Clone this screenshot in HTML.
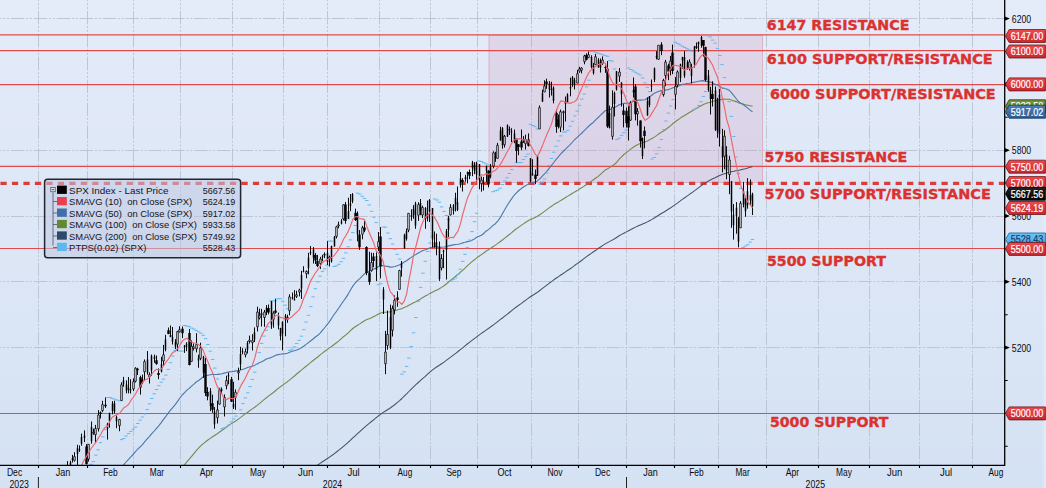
<!DOCTYPE html><html><head><meta charset="utf-8"><title>SPX Index</title><style>html,body{margin:0;padding:0;background:#dde7f6;overflow:hidden}svg{display:block}</style></head><body><svg width="1046" height="488" viewBox="0 0 1046 488" style="display:block">
<defs>
<linearGradient id="bg" x1="0" y1="0" x2="0" y2="1"><stop offset="0" stop-color="#e4ebf9"/><stop offset="1" stop-color="#d5e2f3"/></linearGradient>
<linearGradient id="rl" x1="0" y1="0" x2="0" y2="1"><stop offset="0" stop-color="#ee4a4e"/><stop offset="1" stop-color="#c9272f"/></linearGradient>
<linearGradient id="bl" x1="0" y1="0" x2="0" y2="1"><stop offset="0" stop-color="#4a7fb8"/><stop offset="1" stop-color="#2f5f96"/></linearGradient>
<linearGradient id="gl" x1="0" y1="0" x2="0" y2="1"><stop offset="0" stop-color="#6f9a3c"/><stop offset="1" stop-color="#4f7a24"/></linearGradient>
<linearGradient id="dl" x1="0" y1="0" x2="0" y2="1"><stop offset="0" stop-color="#35587c"/><stop offset="1" stop-color="#22405f"/></linearGradient>
<linearGradient id="cl" x1="0" y1="0" x2="0" y2="1"><stop offset="0" stop-color="#6cc4f6"/><stop offset="1" stop-color="#48a8e6"/></linearGradient>
<linearGradient id="kl" x1="0" y1="0" x2="0" y2="1"><stop offset="0" stop-color="#222"/><stop offset="1" stop-color="#000"/></linearGradient>
<clipPath id="plot"><rect x="0" y="0" width="1004.7" height="465.3"/></clipPath>
</defs>
<rect width="1046" height="488" fill="url(#bg)"/>
<rect x="1043.2" y="0" width="2.8" height="488" fill="#e3ecf9" fill-opacity="0.7"/>
<path d="M38.5 0V465.3M87.5 0V465.3M133.5 0V465.3M180.5 0V465.3M232.5 0V465.3M283.5 0V465.3M327.5 0V465.3M379.5 0V465.3M430.5 0V465.3M477.5 0V465.3M531.5 0V465.3M578.5 0V465.3M626.5 0V465.3M674.5 0V465.3M718.5 0V465.3M766.5 0V465.3M818.5 0V465.3M869.5 0V465.3M919.5 0V465.3M972.5 0V465.3M0 413.5H1004.7M0 347.5H1004.7M0 281.5H1004.7M0 216.5H1004.7M0 150.5H1004.7M0 84.5H1004.7M0 18.5H1004.7" stroke="#b9c2d3" stroke-width="0.9" stroke-dasharray="13.5 1.8 2 1.8 2 1.8" stroke-dashoffset="12" fill="none"/>
<rect x="489.0" y="35.4" width="273.5" height="147.0" fill="#d198b8" fill-opacity="0.24" stroke="#dc9fb0" stroke-width="0.7"/>
<path d="M0 34.9H1004.7" stroke="#e04c4c" stroke-width="1.15"/>
<path d="M0 50.6H1004.7" stroke="#e04c4c" stroke-width="1.15"/>
<path d="M0 84.6H1004.7" stroke="#e04c4c" stroke-width="1.15"/>
<path d="M0 166.4H1004.7" stroke="#e04c4c" stroke-width="1.15"/>
<path d="M0 248.5H1004.7" stroke="#e04c4c" stroke-width="1.15"/>
<path d="M0 413.5H1004.7" stroke="#e04c4c" stroke-width="1.15"/>
<path d="M0 183.4H1004.7" stroke="#dc3c3c" stroke-width="3.2" stroke-dasharray="6.25 5.226" stroke-dashoffset="11.03"/>
<g clip-path="url(#plot)">
<polyline points="39.7,625.3 42.0,624.0 44.3,622.7 46.7,621.5 49.0,620.1 51.4,618.8 53.7,617.5 56.0,616.3 58.4,615.0 60.7,613.9 63.0,612.8 65.4,611.6 67.7,610.4 70.0,609.2 72.4,608.0 74.7,606.7 77.1,605.5 79.4,604.2 81.7,602.9 84.1,601.6 86.4,600.5 88.7,599.2 91.1,597.9 93.4,596.6 95.8,595.3 98.1,593.8 100.4,592.4 102.8,590.8 105.1,589.2 107.4,587.8 109.8,586.3 112.1,584.8 114.5,583.4 116.8,582.0 119.1,580.6 121.5,578.9 123.8,577.2 126.1,575.6 128.5,574.0 130.8,572.4 133.1,570.8 135.5,569.1 137.8,567.5 140.2,566.0 142.5,564.5 144.8,562.9 147.2,561.3 149.5,559.8 151.8,558.1 154.2,556.3 156.5,554.7 158.9,553.1 161.2,551.5 163.5,549.9 165.9,548.2 168.2,546.6 170.5,545.0 172.9,543.4 175.2,541.9 177.6,540.4 179.9,538.9 182.2,537.5 184.6,536.1 186.9,534.8 189.2,533.6 191.6,532.3 193.9,531.0 196.2,529.6 198.6,528.3 200.9,526.9 203.3,525.7 205.6,524.4 207.9,523.3 210.3,522.3 212.6,521.3 214.9,520.4 217.3,519.5 219.6,518.5 222.0,517.6 224.3,516.7 226.6,515.7 229.0,514.7 231.3,513.8 233.6,513.0 236.0,512.1 238.3,511.2 240.7,510.2 243.0,509.1 245.3,508.1 247.7,507.1 250.0,506.0 252.3,504.9 254.7,503.8 257.0,502.6 259.3,501.5 261.7,500.3 264.0,499.1 266.4,497.8 268.7,496.6 271.0,495.4 273.4,494.0 275.7,492.7 278.0,491.4 280.4,490.1 282.7,488.8 285.1,487.4 287.4,485.9 289.7,484.4 292.1,482.8 294.4,481.2 296.7,479.6 299.1,478.0 301.4,476.3 303.7,474.7 306.1,473.0 308.4,471.4 310.8,469.7 313.1,468.1 315.4,466.5 317.8,465.0 320.1,463.4 322.4,461.8 324.8,460.3 327.1,458.7 329.5,457.1 331.8,455.5 334.1,453.8 336.5,452.0 338.8,450.2 341.1,448.3 343.5,446.3 345.8,444.4 348.2,442.3 350.5,440.2 352.8,437.9 355.2,435.8 357.5,433.7 359.8,431.6 362.2,429.4 364.5,427.3 366.8,425.3 369.2,423.4 371.5,421.5 373.9,419.6 376.2,417.7 378.5,415.8 380.9,414.1 383.2,412.4 385.5,411.0 387.9,409.5 390.2,408.0 392.6,406.3 394.9,404.5 397.2,402.6 399.6,400.6 401.9,398.5 404.2,396.2 406.6,393.9 408.9,391.5 411.3,389.1 413.6,386.8 415.9,384.6 418.3,382.5 420.6,380.4 422.9,378.3 425.3,376.3 427.6,374.2 429.9,372.1 432.3,370.2 434.6,368.4 437.0,366.8 439.3,365.3 441.6,363.7 444.0,362.1 446.3,360.4 448.6,358.6 451.0,356.9 453.3,355.1 455.7,353.3 458.0,351.5 460.3,349.6 462.7,347.8 465.0,345.9 467.3,344.0 469.7,342.2 472.0,340.4 474.4,338.6 476.7,336.8 479.0,335.1 481.4,333.4 483.7,331.8 486.0,330.1 488.4,328.5 490.7,326.8 493.0,325.2 495.4,323.4 497.7,321.6 500.1,319.7 502.4,318.0 504.7,316.2 507.1,314.4 509.4,312.5 511.7,310.6 514.1,308.7 516.4,307.0 518.8,305.2 521.1,303.6 523.4,301.8 525.8,300.1 528.1,298.4 530.4,296.8 532.8,295.2 535.1,293.8 537.4,292.3 539.8,290.5 542.1,288.7 544.5,286.9 546.8,285.1 549.1,283.3 551.5,281.6 553.8,279.8 556.1,278.2 558.5,276.6 560.8,275.0 563.2,273.5 565.5,271.9 567.8,270.3 570.2,268.7 572.5,267.1 574.8,265.3 577.2,263.6 579.5,262.0 581.9,260.3 584.2,258.4 586.5,256.6 588.9,255.0 591.2,253.4 593.5,251.8 595.9,250.2 598.2,248.5 600.5,247.0 602.9,245.4 605.2,243.9 607.6,242.6 609.9,241.4 612.2,240.1 614.6,238.7 616.9,237.2 619.2,235.7 621.6,234.4 623.9,233.2 626.3,231.9 628.6,230.7 630.9,229.5 633.3,228.2 635.6,227.1 637.9,226.0 640.3,225.0 642.6,224.0 645.0,223.0 647.3,221.9 649.6,220.7 652.0,219.4 654.3,218.0 656.6,216.5 659.0,215.0 661.3,213.5 663.6,212.2 666.0,210.7 668.3,209.3 670.7,207.8 673.0,206.1 675.3,204.6 677.7,202.9 680.0,201.2 682.3,199.4 684.7,197.7 687.0,196.1 689.4,194.4 691.7,192.8 694.0,191.1 696.4,189.4 698.7,187.6 701.0,185.8 703.4,184.1 705.7,182.6 708.1,181.3 710.4,180.0 712.7,178.8 715.1,177.7 717.4,176.5 719.7,175.5 722.1,174.6 724.4,173.7 726.7,173.0 729.1,172.2 731.4,171.7 733.8,171.3 736.1,170.8 738.4,170.4 740.8,169.8 743.1,169.2 745.4,168.7 747.8,167.9 750.1,167.3 752.5,166.7" fill="none" stroke="#42536a" stroke-width="1.05" stroke-linejoin="round"/>
<polyline points="39.7,595.6 42.0,594.9 44.3,594.3 46.7,593.5 49.0,592.5 51.4,591.4 53.7,590.2 56.0,588.9 58.4,587.6 60.7,586.3 63.0,585.2 65.4,583.9 67.7,582.5 70.0,581.1 72.4,579.8 74.7,578.4 77.1,577.0 79.4,575.7 81.7,574.4 84.1,573.0 86.4,571.9 88.7,570.6 91.1,569.2 93.4,567.7 95.8,566.3 98.1,564.7 100.4,563.1 102.8,561.3 105.1,559.5 107.4,557.9 109.8,556.0 112.1,553.9 114.5,551.7 116.8,549.6 119.1,547.4 121.5,544.7 123.8,542.0 126.1,539.3 128.5,536.6 130.8,533.8 133.1,531.0 135.5,528.1 137.8,525.3 140.2,522.7 142.5,520.2 144.8,517.5 147.2,515.1 149.5,512.6 151.8,509.8 154.2,507.0 156.5,504.2 158.9,501.4 161.2,498.4 163.5,495.3 165.9,491.9 168.2,488.4 170.5,484.9 172.9,481.3 175.2,477.8 177.6,474.2 179.9,470.8 182.2,467.5 184.6,464.6 186.9,461.8 189.2,459.2 191.6,456.4 193.9,453.6 196.2,450.7 198.6,448.2 200.9,445.7 203.3,443.7 205.6,441.8 207.9,440.0 210.3,438.4 212.6,436.8 214.9,435.3 217.3,433.8 219.6,432.0 222.0,430.3 224.3,428.7 226.6,426.9 229.0,425.1 231.3,423.6 233.6,422.2 236.0,420.8 238.3,419.1 240.7,417.4 243.0,415.6 245.3,413.9 247.7,412.2 250.0,410.5 252.3,408.9 254.7,407.2 257.0,405.4 259.3,403.6 261.7,401.6 264.0,399.7 266.4,397.8 268.7,395.9 271.0,394.3 273.4,392.5 275.7,390.5 278.0,388.6 280.4,386.8 282.7,385.1 285.1,383.4 287.4,381.7 289.7,379.8 292.1,377.9 294.4,376.0 296.7,374.0 299.1,372.0 301.4,370.1 303.7,368.2 306.1,366.3 308.4,364.4 310.8,362.4 313.1,360.5 315.4,358.7 317.8,357.0 320.1,354.9 322.4,353.1 324.8,351.3 327.1,349.6 329.5,347.9 331.8,346.2 334.1,344.5 336.5,342.7 338.8,340.9 341.1,338.8 343.5,336.7 345.8,334.9 348.2,332.9 350.5,330.7 352.8,328.5 355.2,326.8 357.5,325.3 359.8,323.9 362.2,322.3 364.5,320.7 366.8,319.6 369.2,318.8 371.5,317.7 373.9,316.4 376.2,315.3 378.5,314.1 380.9,313.1 383.2,312.3 385.5,312.3 387.9,312.0 390.2,311.9 392.6,311.2 394.9,310.6 397.2,310.0 399.6,309.3 401.9,308.6 404.2,307.6 406.6,306.5 408.9,305.2 411.3,304.0 413.6,302.8 415.9,301.7 418.3,300.3 420.6,299.0 422.9,297.4 425.3,296.1 427.6,294.9 429.9,293.4 432.3,292.2 434.6,291.1 437.0,289.9 439.3,288.8 441.6,287.4 444.0,285.8 446.3,284.0 448.6,282.0 451.0,279.9 453.3,278.1 455.7,276.2 458.0,274.4 460.3,272.3 462.7,270.4 465.0,268.2 467.3,265.8 469.7,263.7 472.0,261.6 474.4,259.8 476.7,257.9 479.0,256.2 481.4,254.6 483.7,253.0 486.0,251.2 488.4,249.8 490.7,248.3 493.0,246.7 495.4,245.1 497.7,243.4 500.1,241.7 502.4,240.0 504.7,238.1 507.1,236.3 509.4,234.5 511.7,232.6 514.1,230.5 516.4,228.8 518.8,227.1 521.1,225.4 523.4,223.9 525.8,222.3 528.1,220.7 530.4,219.6 532.8,218.4 535.1,217.5 537.4,216.3 539.8,214.7 542.1,213.1 544.5,211.4 546.8,209.6 549.1,207.9 551.5,206.2 553.8,204.6 556.1,203.3 558.5,201.9 560.8,200.4 563.2,199.0 565.5,197.5 567.8,196.1 570.2,194.7 572.5,193.3 574.8,191.9 577.2,190.6 579.5,189.0 581.9,187.6 584.2,186.1 586.5,184.8 588.9,183.1 591.2,181.4 593.5,179.7 595.9,178.0 598.2,176.4 600.5,174.3 602.9,172.1 605.2,170.1 607.6,168.8 609.9,167.4 612.2,166.0 614.6,164.3 616.9,162.0 619.2,159.2 621.6,156.8 623.9,154.5 626.3,152.6 628.6,150.9 630.9,148.9 633.3,147.2 635.6,145.7 637.9,144.4 640.3,143.5 642.6,142.8 645.0,142.0 647.3,140.9 649.6,139.7 652.0,138.5 654.3,137.1 656.6,135.6 659.0,133.8 661.3,132.2 663.6,131.0 666.0,129.2 668.3,127.5 670.7,125.6 673.0,123.5 675.3,121.8 677.7,120.0 680.0,118.4 682.3,116.8 684.7,115.4 687.0,114.0 689.4,112.6 691.7,111.2 694.0,109.8 696.4,108.5 698.7,107.1 701.0,105.8 703.4,104.5 705.7,103.6 708.1,102.8 710.4,102.2 712.7,101.3 715.1,100.8 717.4,100.0 719.7,99.7 722.1,99.4 724.4,99.1 726.7,99.3 729.1,99.3 731.4,100.0 733.8,100.9 736.1,101.6 738.4,102.7 740.8,103.4 743.1,104.0 745.4,104.8 747.8,105.3 750.1,105.8 752.5,106.3" fill="none" stroke="#748a4c" stroke-width="1.1" stroke-linejoin="round"/>
<polyline points="39.7,580.0 42.0,577.1 44.3,574.2 46.7,571.1 49.0,567.4 51.4,563.6 53.7,559.5 56.0,555.3 58.4,550.9 60.7,547.0 63.0,543.5 65.4,540.1 67.7,536.6 70.0,533.4 72.4,530.0 74.7,526.6 77.1,523.0 79.4,519.5 81.7,516.0 84.1,512.8 86.4,510.5 88.7,507.9 91.1,504.9 93.4,502.1 95.8,499.3 98.1,496.2 100.4,493.1 102.8,490.0 105.1,486.8 107.4,484.2 109.8,481.3 112.1,478.3 114.5,475.5 116.8,473.0 119.1,470.6 121.5,467.6 123.8,464.7 126.1,462.0 128.5,459.4 130.8,456.9 133.1,454.3 135.5,451.6 137.8,449.0 140.2,446.8 142.5,444.6 144.8,441.6 147.2,438.9 149.5,436.4 151.8,433.6 154.2,431.0 156.5,428.3 158.9,425.6 161.2,422.6 163.5,419.4 165.9,416.4 168.2,413.2 170.5,410.2 172.9,407.3 175.2,404.6 177.6,401.4 179.9,398.0 182.2,395.0 184.6,392.6 186.9,390.2 189.2,388.3 191.6,386.1 193.9,384.1 196.2,382.0 198.6,380.5 200.9,378.7 203.3,376.8 205.6,375.8 207.9,375.2 210.3,374.7 212.6,374.3 214.9,374.5 217.3,374.4 219.6,374.1 222.0,373.8 224.3,373.1 226.6,372.5 229.0,371.9 231.3,371.7 233.6,371.4 236.0,370.9 238.3,370.6 240.7,370.0 243.0,369.3 245.3,368.5 247.7,367.6 250.0,366.8 252.3,366.2 254.7,365.4 257.0,363.9 259.3,362.7 261.7,361.7 264.0,360.5 266.4,359.1 268.7,358.3 271.0,357.6 273.4,356.6 275.7,355.3 278.0,354.6 280.4,354.2 282.7,353.9 285.1,353.6 287.4,353.2 289.7,352.3 292.1,351.3 294.4,350.7 296.7,350.0 299.1,349.1 301.4,347.7 303.7,346.2 306.1,344.4 308.4,342.6 310.8,340.7 313.1,339.0 315.4,337.0 317.8,335.3 320.1,333.1 322.4,330.3 324.8,327.5 327.1,324.6 329.5,321.6 331.8,318.0 334.1,314.5 336.5,311.3 338.8,308.0 341.1,304.5 343.5,301.0 345.8,297.9 348.2,294.1 350.5,290.0 352.8,286.1 355.2,283.0 357.5,280.7 359.8,278.6 362.2,276.1 364.5,273.8 366.8,272.5 369.2,271.3 371.5,269.9 373.9,268.9 376.2,268.0 378.5,266.5 380.9,265.6 383.2,265.5 385.5,266.3 387.9,266.4 390.2,267.1 392.6,267.0 394.9,266.5 397.2,265.8 399.6,264.8 401.9,263.7 404.2,262.0 406.6,260.7 408.9,259.0 411.3,257.4 413.6,255.6 415.9,254.4 418.3,253.0 420.6,251.8 422.9,250.5 425.3,249.7 427.6,249.0 429.9,247.8 432.3,247.4 434.6,246.9 437.0,246.7 439.3,247.2 441.6,247.3 444.0,247.0 446.3,246.5 448.6,245.9 451.0,245.4 453.3,244.9 455.7,244.5 458.0,244.2 460.3,243.7 462.7,242.9 465.0,242.3 467.3,241.6 469.7,241.2 472.0,240.2 474.4,238.9 476.7,237.2 479.0,236.3 481.4,235.3 483.7,233.5 486.0,231.2 488.4,229.6 490.7,227.7 493.0,225.4 495.4,223.7 497.7,221.2 500.1,217.9 502.4,213.7 504.7,209.8 507.1,205.5 509.4,202.0 511.7,198.6 514.1,195.3 516.4,192.9 518.8,190.5 521.1,188.8 523.4,187.0 525.8,185.5 528.1,184.1 530.4,183.6 532.8,182.5 535.1,182.0 537.4,180.9 539.8,178.9 542.1,176.4 544.5,173.8 546.8,171.4 549.1,168.4 551.5,165.4 553.8,162.5 556.1,159.4 558.5,156.6 560.8,153.9 563.2,151.5 565.5,149.1 567.8,146.9 570.2,144.6 572.5,142.0 574.8,139.5 577.2,137.4 579.5,135.1 581.9,133.0 584.2,130.6 586.5,128.3 588.9,126.0 591.2,124.0 593.5,122.2 595.9,119.7 598.2,117.5 600.5,115.2 602.9,113.0 605.2,110.7 607.6,109.9 609.9,109.4 612.2,108.4 614.6,107.4 616.9,106.2 619.2,104.7 621.6,103.9 623.9,103.4 626.3,103.3 628.6,103.2 630.9,102.6 633.3,101.5 635.6,100.8 637.9,100.1 640.3,100.1 642.6,100.0 645.0,99.8 647.3,98.2 649.6,96.9 652.0,95.0 654.3,93.2 656.6,92.2 659.0,91.2 661.3,90.6 663.6,90.5 666.0,89.9 668.3,89.6 670.7,88.8 673.0,87.7 675.3,87.0 677.7,86.2 680.0,85.2 682.3,84.4 684.7,84.0 687.0,83.5 689.4,83.2 691.7,82.8 694.0,82.3 696.4,81.8 698.7,81.3 701.0,80.9 703.4,80.6 705.7,81.1 708.1,81.6 710.4,82.1 712.7,83.0 715.1,84.2 717.4,84.9 719.7,86.3 722.1,88.1 724.4,88.3 726.7,89.2 729.1,90.2 731.4,92.6 733.8,95.7 736.1,98.5 738.4,101.5 740.8,103.3 743.1,104.6 745.4,106.3 747.8,108.1 750.1,110.1 752.5,111.7" fill="none" stroke="#4a78a8" stroke-width="1.1" stroke-linejoin="round"/>
<path d="M38.0 512.7h3.4M40.3 491.5h3.4M42.6 491.5h3.4M45.0 492.6h3.4M47.3 518.9h3.4M49.7 518.5h3.4M52.0 517.1h3.4M54.3 515.1h3.4M56.7 514.0h3.4M59.0 510.6h3.4M61.3 480.4h3.4M63.7 481.0h3.4M66.0 507.2h3.4M68.3 506.3h3.4M70.7 504.5h3.4M73.0 501.5h3.4M75.4 497.6h3.4M77.7 492.3h3.4M80.0 487.5h3.4M82.4 481.1h3.4M84.7 474.0h3.4M87.0 467.9h3.4M89.4 464.3h3.4M91.7 461.6h3.4M94.1 455.2h3.4M96.4 449.8h3.4M98.7 442.7h3.4M101.1 436.8h3.4M103.4 429.6h3.4M105.7 397.5h3.4M108.1 397.5h3.4M110.4 398.3h3.4M112.8 399.1h3.4M115.1 400.0h3.4M117.4 400.7h3.4M119.8 439.6h3.4M122.1 438.5h3.4M124.4 436.0h3.4M126.8 433.6h3.4M129.1 431.4h3.4M131.4 429.2h3.4M133.8 427.1h3.4M136.1 423.5h3.4M138.5 420.1h3.4M140.8 417.0h3.4M143.1 414.0h3.4M145.5 409.6h3.4M147.8 403.8h3.4M150.1 398.5h3.4M152.5 393.8h3.4M154.8 389.5h3.4M157.2 385.7h3.4M159.5 382.2h3.4M161.8 379.2h3.4M164.2 375.1h3.4M166.5 369.4h3.4M168.8 362.7h3.4M171.2 356.0h3.4M173.5 350.5h3.4M175.9 349.1h3.4M178.2 351.1h3.4M180.5 351.1h3.4M182.9 325.5h3.4M185.2 326.0h3.4M187.5 326.6h3.4M189.9 328.1h3.4M192.2 329.0h3.4M194.5 330.4h3.4M196.9 331.8h3.4M199.2 333.2h3.4M201.6 335.3h3.4M203.9 338.7h3.4M206.2 344.5h3.4M208.6 351.2h3.4M210.9 359.5h3.4M213.2 368.1h3.4M215.6 379.0h3.4M217.9 387.9h3.4M220.3 428.7h3.4M222.6 427.8h3.4M224.9 427.0h3.4M227.3 425.0h3.4M229.6 421.9h3.4M231.9 418.9h3.4M234.3 416.1h3.4M236.6 413.5h3.4M239.0 409.9h3.4M241.3 403.6h3.4M243.6 397.9h3.4M246.0 392.8h3.4M248.3 386.6h3.4M250.6 379.4h3.4M253.0 372.2h3.4M255.3 364.1h3.4M257.6 352.6h3.4M260.0 343.4h3.4M262.3 336.1h3.4M264.7 330.2h3.4M267.0 326.8h3.4M269.3 300.9h3.4M271.7 300.9h3.4M274.0 300.9h3.4M276.3 298.7h3.4M278.7 298.7h3.4M281.0 301.2h3.4M283.4 305.1h3.4M285.7 308.8h3.4M288.0 350.3h3.4M290.4 349.2h3.4M292.7 346.9h3.4M295.0 343.5h3.4M297.4 340.3h3.4M299.7 336.2h3.4M302.0 329.7h3.4M304.4 322.0h3.4M306.7 315.3h3.4M309.1 306.6h3.4M311.4 296.9h3.4M313.7 288.7h3.4M316.1 281.9h3.4M318.4 276.2h3.4M320.7 271.3h3.4M323.1 268.9h3.4M325.4 265.2h3.4M327.8 241.1h3.4M330.1 241.1h3.4M332.4 266.5h3.4M334.8 265.9h3.4M337.1 264.3h3.4M339.4 261.7h3.4M341.8 258.3h3.4M344.1 252.9h3.4M346.5 246.8h3.4M348.8 239.9h3.4M351.1 232.6h3.4M353.5 225.5h3.4M355.8 193.1h3.4M358.1 194.0h3.4M360.5 196.3h3.4M362.8 198.4h3.4M365.1 200.5h3.4M367.5 205.0h3.4M369.8 211.3h3.4M372.2 217.2h3.4M374.5 222.6h3.4M376.8 284.8h3.4M379.2 283.7h3.4M381.5 227.1h3.4M383.8 227.1h3.4M386.2 233.0h3.4M388.5 238.7h3.4M390.9 244.1h3.4M393.2 249.3h3.4M395.5 254.3h3.4M397.9 259.1h3.4M400.2 374.2h3.4M402.5 371.9h3.4M404.9 366.4h3.4M407.2 358.1h3.4M409.6 346.5h3.4M411.9 332.8h3.4M414.2 317.5h3.4M416.6 301.3h3.4M418.9 287.4h3.4M421.2 273.2h3.4M423.6 261.3h3.4M425.9 251.4h3.4M428.2 243.0h3.4M430.6 236.0h3.4M432.9 199.0h3.4M435.3 200.0h3.4M437.6 202.2h3.4M439.9 206.9h3.4M442.3 211.4h3.4M444.6 215.5h3.4M446.9 219.5h3.4M449.3 280.9h3.4M451.6 279.4h3.4M454.0 277.9h3.4M456.3 274.5h3.4M458.6 269.2h3.4M461.0 261.4h3.4M463.3 254.3h3.4M465.6 247.7h3.4M468.0 240.1h3.4M470.3 231.6h3.4M472.7 221.7h3.4M475.0 213.2h3.4M477.3 160.9h3.4M479.7 161.5h3.4M482.0 162.7h3.4M484.3 163.9h3.4M486.7 165.0h3.4M489.0 165.6h3.4M491.3 191.7h3.4M493.7 190.8h3.4M496.0 190.1h3.4M498.4 188.2h3.4M500.7 184.5h3.4M503.0 181.0h3.4M505.4 177.8h3.4M507.7 173.5h3.4M510.0 169.6h3.4M512.4 165.9h3.4M514.7 162.6h3.4M517.1 162.6h3.4M519.4 162.6h3.4M521.7 159.5h3.4M524.1 156.7h3.4M526.4 154.1h3.4M528.7 124.4h3.4M531.1 125.5h3.4M533.4 126.7h3.4M535.7 129.0h3.4M538.1 184.2h3.4M540.4 182.7h3.4M542.8 179.0h3.4M545.1 173.0h3.4M547.4 165.5h3.4M549.8 158.5h3.4M552.1 152.2h3.4M554.4 146.3h3.4M556.8 140.9h3.4M559.1 135.9h3.4M561.5 132.0h3.4M563.8 132.0h3.4M566.1 130.3h3.4M568.5 126.2h3.4M570.8 121.3h3.4M573.1 115.9h3.4M575.5 111.1h3.4M577.8 105.3h3.4M580.2 99.1h3.4M582.5 94.0h3.4M584.8 86.9h3.4M587.2 80.2h3.4M589.5 51.5h3.4M591.8 51.5h3.4M594.2 52.4h3.4M596.5 53.3h3.4M598.8 53.9h3.4M601.2 54.8h3.4M603.5 55.6h3.4M605.9 56.3h3.4M608.2 60.6h3.4M610.5 61.1h3.4M612.9 69.0h3.4M615.2 139.6h3.4M617.5 138.2h3.4M619.9 135.4h3.4M622.2 132.7h3.4M624.6 130.1h3.4M626.9 68.0h3.4M629.2 69.5h3.4M631.6 70.9h3.4M633.9 72.3h3.4M636.2 73.7h3.4M638.6 75.0h3.4M640.9 77.9h3.4M643.3 82.8h3.4M645.6 87.3h3.4M647.9 91.6h3.4M650.3 159.0h3.4M652.6 157.4h3.4M654.9 153.8h3.4M657.3 147.6h3.4M659.6 139.5h3.4M661.9 129.7h3.4M664.3 121.0h3.4M666.6 113.1h3.4M669.0 106.0h3.4M671.3 99.6h3.4M673.6 42.2h3.4M676.0 43.6h3.4M678.3 44.9h3.4M680.6 46.2h3.4M683.0 47.4h3.4M685.3 48.7h3.4M687.7 49.9h3.4M690.0 51.1h3.4M692.3 109.4h3.4M694.7 108.2h3.4M697.0 105.5h3.4M699.3 101.7h3.4M701.7 96.4h3.4M704.0 91.6h3.4M706.4 35.9h3.4M708.7 37.0h3.4M711.0 40.1h3.4M713.4 43.1h3.4M715.7 48.4h3.4M718.0 55.5h3.4M720.4 64.6h3.4M722.7 77.6h3.4M725.0 88.9h3.4M727.4 101.6h3.4M729.7 116.4h3.4M732.1 136.5h3.4M734.4 157.1h3.4M736.7 173.6h3.4M739.1 188.3h3.4M741.4 247.4h3.4M743.7 246.0h3.4M746.1 244.8h3.4M748.4 242.1h3.4M750.8 239.5h3.4" stroke="#62b8f0" stroke-width="1" fill="none"/>
<path d="M39.5 491.5V506.1M42.5 498.0V516.0M44.5 507.7V518.9M46.5 512.0V518.5M49.5 489.0V514.6M51.5 484.1V494.5M53.5 483.0V514.0M56.5 482.0V494.1M58.5 480.4V486.1M60.5 482.7V492.8M63.5 494.7V507.2M65.5 483.9V499.9M67.5 461.1V483.3M70.5 460.7V470.4M72.5 454.9V462.6M74.5 452.2V461.6M77.5 444.8V474.8M79.5 445.4V451.9M81.5 433.6V445.7M84.5 430.4V442.1M86.5 444.1V464.3M88.5 444.0V461.6M91.5 421.5V443.7M93.5 428.6V434.8M95.5 424.9V442.6M98.5 410.1V431.5M100.5 411.4V418.5M102.5 400.8V412.1M105.5 397.5V407.9M107.5 422.8V439.6M109.5 412.6V427.7M112.5 401.1V414.3M114.5 400.7V413.6M116.5 415.5V428.2M119.5 418.9V431.2M121.5 382.3V400.6M123.5 376.9V386.8M126.5 380.4V393.3M128.5 377.0V393.3M130.5 379.2V393.5M133.5 378.4V391.1M135.5 367.2V382.5M137.5 367.8V375.0M140.5 375.7V394.6M142.5 374.6V384.2M144.5 359.5V380.8M147.5 351.1V374.7M149.5 372.4V383.5M151.5 354.5V376.0M154.5 354.6V362.8M156.5 355.5V364.8M158.5 368.4V379.2M161.5 356.8V372.4M163.5 344.9V365.7M165.5 334.8V351.3M168.5 327.5V334.2M170.5 325.5V337.2M172.5 327.0V344.5M175.5 339.1V349.1M177.5 330.8V351.1M179.5 326.2V332.5M182.5 326.5V338.1M184.5 345.0V352.9M186.5 342.2V351.2M189.5 329.0V365.4M191.5 340.4V361.7M193.5 343.4V350.5M196.5 333.2V352.4M198.5 354.7V367.8M200.5 342.7V360.2M203.5 355.8V377.9M205.5 358.0V396.1M207.5 387.1V400.3M210.5 388.1V411.1M212.5 394.7V412.8M214.5 407.1V428.7M217.5 400.6V423.5M219.5 388.4V404.5M221.5 387.5V393.5M224.5 394.4V416.5M226.5 375.7V389.4M228.5 372.8V384.3M231.5 376.9V401.8M233.5 381.8V409.0M235.5 389.4V409.8M238.5 367.6V380.1M240.5 346.8V370.0M242.5 348.3V354.3M245.5 348.6V357.4M247.5 341.1V353.5M249.5 335.6V343.5M252.5 334.2V350.5M254.5 327.4V342.0M257.5 306.7V331.5M259.5 308.6V319.5M261.5 308.9V326.5M264.5 310.0V326.8M266.5 305.1V315.2M268.5 304.5V314.4M271.5 300.9V328.9M273.5 311.2V327.7M275.5 298.7V313.7M278.5 312.6V329.4M280.5 327.8V340.4M282.5 321.2V350.3M285.5 314.0V336.3M287.5 314.7V322.8M289.5 294.3V315.3M292.5 292.5V299.5M294.5 290.1V300.5M296.5 290.8V298.0M299.5 288.7V296.4M301.5 270.8V298.9M303.5 266.2V272.4M306.5 270.5V278.3M308.5 252.8V274.3M310.5 246.0V255.1M313.5 247.1V263.5M315.5 253.0V264.0M317.5 254.9V267.1M320.5 256.9V268.9M322.5 254.8V261.2M324.5 252.4V258.1M327.5 241.1V265.0M329.5 255.6V266.5M331.5 245.7V262.6M334.5 236.0V246.5M336.5 225.8V238.5M338.5 221.6V228.3M341.5 219.0V224.4M343.5 204.4V220.5M345.5 202.0V223.7M348.5 197.7V219.1M350.5 194.0V211.1M352.5 193.1V203.2M355.5 208.6V221.0M357.5 211.4V241.4M359.5 230.0V249.9M362.5 225.8V239.3M364.5 220.8V232.2M366.5 246.3V275.2M369.5 251.7V284.8M371.5 252.7V271.7M373.5 252.9V267.2M376.5 252.4V281.2M378.5 232.0V251.0M380.5 227.1V278.4M383.5 287.1V314.0M385.5 330.9V374.2M387.5 310.6V349.7M390.5 304.6V349.1M392.5 305.5V336.5M394.5 295.4V314.4M397.5 291.3V306.7M399.5 269.8V289.4M401.5 261.0V276.6M404.5 233.7V248.5M406.5 228.5V240.6M408.5 213.3V232.2M411.5 209.3V220.8M413.5 205.2V218.8M415.5 201.8V228.8M418.5 202.2V220.9M420.5 199.0V215.2M422.5 205.7V218.1M425.5 207.1V228.8M427.5 200.6V221.4M429.5 199.1V222.0M432.5 208.1V247.5M434.5 231.5V247.7M436.5 233.7V255.3M439.5 241.5V280.9M441.5 254.1V270.5M443.5 249.6V268.1M446.5 229.0V279.5M448.5 215.8V237.2M450.5 204.1V215.5M453.5 204.1V214.5M455.5 192.7V211.4M457.5 186.5V211.0M460.5 172.1V187.6M462.5 178.1V191.5M465.5 174.8V181.7M467.5 171.5V183.4M469.5 169.6V179.1M472.5 160.9V176.2M474.5 162.1V174.1M476.5 161.7V181.9M479.5 164.1V189.3M481.5 176.6V191.7M483.5 176.9V190.5M486.5 165.6V182.2M488.5 170.2V187.4M490.5 164.1V178.3M493.5 151.3V168.3M495.5 151.8V161.8M497.5 142.9V158.4M500.5 126.7V140.5M502.5 127.1V148.7M504.5 134.9V147.5M507.5 124.4V137.0M509.5 126.5V135.0M511.5 128.2V142.0M514.5 129.5V143.2M516.5 138.7V162.6M518.5 144.3V155.2M521.5 129.5V150.2M523.5 136.1V142.6M525.5 134.7V149.5M528.5 133.4V146.5M530.5 158.3V182.2M532.5 159.2V175.5M535.5 169.5V184.2M537.5 155.6V175.8M539.5 105.4V128.9M542.5 89.7V101.8M544.5 80.3V92.0M546.5 78.7V88.8M549.5 81.1V97.5M551.5 81.7V95.6M553.5 86.4V103.4M556.5 109.1V132.8M558.5 114.6V128.5M560.5 109.6V132.0M563.5 110.5V130.3M565.5 96.5V121.5M567.5 93.3V102.7M570.5 77.6V96.3M572.5 76.0V86.9M574.5 77.8V89.4M577.5 69.9V83.1M579.5 66.8V72.8M581.5 67.3V73.4M584.5 54.8V64.3M586.5 53.3V60.4M588.5 51.5V58.1M591.5 55.3V68.4M593.5 62.9V74.6M595.5 53.9V64.6M598.5 58.2V67.5M600.5 58.5V72.6M602.5 56.4V64.9M605.5 65.4V72.8M607.5 61.1V127.9M609.5 105.6V128.5M612.5 90.3V139.6M614.5 91.6V116.5M616.5 71.2V90.5M619.5 68.0V82.0M621.5 82.4V106.5M623.5 103.9V127.4M626.5 107.5V127.5M628.5 105.8V140.5M630.5 101.1V121.0M633.5 77.5V97.6M635.5 84.2V120.4M637.5 108.1V125.6M640.5 120.5V147.6M642.5 137.5V159.0M644.5 126.5V148.4M647.5 97.4V115.6M649.5 96.0V107.2M651.5 79.5V91.5M654.5 67.5V82.1M656.5 51.2V59.4M658.5 45.3V59.8M661.5 42.2V55.2M663.5 78.8V96.6M665.5 59.9V86.2M668.5 63.7V80.1M670.5 55.9V75.4M672.5 44.6V74.2M675.5 77.1V109.4M677.5 70.4V87.4M680.5 63.7V82.1M682.5 56.8V69.0M684.5 51.1V77.8M687.5 60.3V69.6M689.5 59.3V70.5M691.5 63.7V83.4M694.5 45.9V67.6M696.5 42.5V49.0M698.5 41.8V51.7M701.5 35.9V47.8M703.5 40.1V56.6M705.5 46.6V81.6M708.5 70.0V91.7M710.5 86.8V114.5M712.5 81.2V106.5M715.5 86.5V130.9M717.5 97.8V137.8M719.5 89.0V146.6M722.5 128.8V172.4M724.5 130.3V169.2M726.5 146.2V179.3M729.5 155.8V194.2M731.5 181.3V227.8M733.5 204.1V239.6M736.5 202.1V233.7M738.5 216.7V247.4M740.5 201.1V227.9M743.5 181.9V207.4M745.5 198.1V216.7M747.5 178.1V208.7M750.5 179.4V205.4M752.5 192.7V215.0" stroke="#000" stroke-width="0.95" fill="none"/>
<path d="M45.7 513.0h1.6V514.0h-1.6ZM52.7 484.6h1.6V492.2h-1.6ZM64.7 485.5h1.6V495.9h-1.6ZM66.7 466.1h1.6V479.6h-1.6ZM73.7 456.6h1.6V460.4h-1.6ZM87.7 444.3h1.6V459.1h-1.6ZM92.7 432.2h1.6V433.2h-1.6ZM94.7 428.5h1.6V434.7h-1.6ZM97.7 415.0h1.6V428.7h-1.6ZM101.7 404.6h1.6V410.5h-1.6ZM118.7 419.4h1.6V425.6h-1.6ZM120.7 384.8h1.6V400.6h-1.6ZM132.7 381.7h1.6V388.9h-1.6ZM134.7 368.3h1.6V381.2h-1.6ZM143.7 361.6h1.6V371.8h-1.6ZM148.7 374.6h1.6V376.9h-1.6ZM162.7 354.7h1.6V361.0h-1.6ZM176.7 331.6h1.6V344.2h-1.6ZM178.7 329.7h1.6V331.8h-1.6ZM190.7 346.2h1.6V361.4h-1.6ZM192.7 346.8h1.6V348.4h-1.6ZM195.7 344.3h1.6V348.8h-1.6ZM199.7 347.9h1.6V358.4h-1.6ZM216.7 409.9h1.6V417.7h-1.6ZM218.7 390.2h1.6V404.2h-1.6ZM223.7 397.5h1.6V406.9h-1.6ZM225.7 380.5h1.6V385.8h-1.6ZM234.7 392.3h1.6V397.3h-1.6ZM237.7 371.4h1.6V373.0h-1.6ZM244.7 351.7h1.6V354.9h-1.6ZM248.7 340.1h1.6V341.6h-1.6ZM251.7 340.6h1.6V342.6h-1.6ZM256.7 312.0h1.6V326.7h-1.6ZM258.7 315.7h1.6V317.9h-1.6ZM260.7 313.6h1.6V314.6h-1.6ZM263.7 312.0h1.6V317.5h-1.6ZM272.7 313.1h1.6V319.3h-1.6ZM286.7 317.5h1.6V319.3h-1.6ZM288.7 296.9h1.6V310.7h-1.6ZM295.7 294.7h1.6V296.4h-1.6ZM298.7 289.9h1.6V292.1h-1.6ZM305.7 271.4h1.6V273.7h-1.6ZM319.7 259.0h1.6V263.7h-1.6ZM328.7 257.1h1.6V258.4h-1.6ZM335.7 226.8h1.6V236.4h-1.6ZM337.7 224.9h1.6V225.9h-1.6ZM342.7 204.8h1.6V218.9h-1.6ZM361.7 227.7h1.6V234.2h-1.6ZM370.7 262.4h1.6V270.7h-1.6ZM377.7 241.6h1.6V247.1h-1.6ZM384.7 352.1h1.6V363.7h-1.6ZM386.7 334.4h1.6V345.5h-1.6ZM391.7 308.3h1.6V330.3h-1.6ZM393.7 300.2h1.6V309.9h-1.6ZM398.7 270.5h1.6V289.4h-1.6ZM407.7 213.3h1.6V230.1h-1.6ZM417.7 204.6h1.6V215.2h-1.6ZM421.7 207.5h1.6V215.0h-1.6ZM440.7 258.4h1.6V268.0h-1.6ZM449.7 207.4h1.6V214.9h-1.6ZM480.7 180.0h1.6V183.7h-1.6ZM492.7 152.8h1.6V166.1h-1.6ZM496.7 145.3h1.6V158.4h-1.6ZM503.7 136.2h1.6V144.7h-1.6ZM524.7 139.4h1.6V143.7h-1.6ZM538.7 107.7h1.6V128.9h-1.6ZM543.7 85.9h1.6V92.0h-1.6ZM559.7 111.7h1.6V127.2h-1.6ZM562.7 111.7h1.6V112.7h-1.6ZM576.7 73.7h1.6V83.1h-1.6ZM578.7 68.9h1.6V71.2h-1.6ZM580.7 68.0h1.6V70.3h-1.6ZM583.7 55.9h1.6V61.6h-1.6ZM587.7 54.7h1.6V57.6h-1.6ZM594.7 56.7h1.6V64.6h-1.6ZM601.7 60.0h1.6V63.4h-1.6ZM611.7 107.2h1.6V136.4h-1.6ZM618.7 72.0h1.6V76.2h-1.6ZM629.7 103.3h1.6V120.2h-1.6ZM636.7 111.3h1.6V113.8h-1.6ZM657.7 45.3h1.6V59.3h-1.6ZM662.7 80.4h1.6V94.6h-1.6ZM664.7 62.1h1.6V75.5h-1.6ZM669.7 61.0h1.6V67.7h-1.6ZM674.7 86.2h1.6V94.4h-1.6ZM676.7 71.9h1.6V85.0h-1.6ZM688.7 61.9h1.6V68.2h-1.6ZM723.7 136.2h1.6V156.3h-1.6ZM728.7 160.0h1.6V174.5h-1.6ZM739.7 203.2h1.6V227.9h-1.6Z" fill="#f4f6fc" stroke="#000" stroke-width="0.8"/>
<path d="M38.3 492.7h2.4V498.0h-2.4ZM41.75 501.4h1.5V510.5h-1.5ZM43.75 510.2h1.5V515.8h-1.5ZM48.75 491.2h1.5V508.7h-1.5ZM50.75 490.3h1.5V493.5h-1.5ZM55.75 485.7h1.5V486.7h-1.5ZM57.75 484.5h1.5V485.5h-1.5ZM59.75 485.8h1.5V490.4h-1.5ZM62.3 494.7h2.4V499.2h-2.4ZM69.75 462.6h1.5V466.8h-1.5ZM71.75 457.9h1.5V460.1h-1.5ZM76.75 448.2h1.5V453.9h-1.5ZM78.75 449.3h1.5V450.3h-1.5ZM80.75 437.1h1.5V443.7h-1.5ZM83.75 435.6h1.5V438.1h-1.5ZM85.3 446.6h2.4V464.2h-2.4ZM90.75 427.0h1.5V441.0h-1.5ZM99.3 412.5h2.4V414.1h-2.4ZM104.3 404.8h2.4V406.2h-2.4ZM106.75 423.9h1.5V428.8h-1.5ZM108.75 413.2h1.5V421.3h-1.5ZM111.75 403.6h1.5V411.1h-1.5ZM113.75 403.2h1.5V411.6h-1.5ZM115.75 417.0h1.5V421.5h-1.5ZM122.75 380.5h1.5V384.2h-1.5ZM125.75 384.5h1.5V390.5h-1.5ZM127.75 387.7h1.5V389.8h-1.5ZM129.75 389.2h1.5V390.4h-1.5ZM136.3 368.7h2.4V370.3h-2.4ZM139.3 377.2h2.4V387.5h-2.4ZM141.75 378.9h1.5V383.0h-1.5ZM146.75 359.4h1.5V372.7h-1.5ZM150.75 355.7h1.5V370.2h-1.5ZM153.75 356.4h1.5V359.0h-1.5ZM155.3 360.2h2.4V363.9h-2.4ZM157.3 372.9h2.4V374.9h-2.4ZM160.75 364.2h1.5V371.6h-1.5ZM164.75 339.5h1.5V349.5h-1.5ZM167.3 330.2h2.4V333.9h-2.4ZM169.3 335.5h2.4V336.5h-2.4ZM171.75 337.0h1.5V341.6h-1.5ZM174.75 341.9h1.5V346.4h-1.5ZM181.3 328.8h2.4V333.2h-2.4ZM183.75 345.7h1.5V346.7h-1.5ZM185.75 343.8h1.5V347.3h-1.5ZM188.3 333.1h2.4V365.0h-2.4ZM197.75 358.2h1.5V360.5h-1.5ZM202.75 357.1h1.5V372.8h-1.5ZM204.3 364.1h2.4V393.1h-2.4ZM206.3 392.1h2.4V396.5h-2.4ZM209.75 391.0h1.5V406.1h-1.5ZM211.3 403.2h2.4V409.7h-2.4ZM213.75 411.6h1.5V424.2h-1.5ZM220.3 389.4h2.4V390.4h-2.4ZM227.75 375.2h1.5V376.2h-1.5ZM230.3 379.2h2.4V401.7h-2.4ZM232.75 403.9h1.5V407.3h-1.5ZM239.75 353.9h1.5V364.2h-1.5ZM241.75 351.2h1.5V352.2h-1.5ZM246.75 343.0h1.5V349.8h-1.5ZM253.75 332.2h1.5V339.4h-1.5ZM265.75 307.7h1.5V312.2h-1.5ZM267.3 308.0h2.4V312.4h-2.4ZM270.75 301.5h1.5V325.3h-1.5ZM274.3 310.4h2.4V312.7h-2.4ZM277.75 316.3h1.5V325.6h-1.5ZM279.75 327.9h1.5V335.9h-1.5ZM281.75 322.1h1.5V333.4h-1.5ZM284.75 315.7h1.5V320.2h-1.5ZM291.75 297.3h1.5V298.7h-1.5ZM293.75 299.2h1.5V300.2h-1.5ZM300.75 274.9h1.5V288.5h-1.5ZM302.75 270.7h1.5V271.7h-1.5ZM307.75 257.7h1.5V267.9h-1.5ZM309.75 251.9h1.5V253.2h-1.5ZM312.75 249.2h1.5V257.7h-1.5ZM314.3 255.1h2.4V260.5h-2.4ZM316.3 260.9h2.4V266.1h-2.4ZM321.75 256.2h1.5V257.2h-1.5ZM323.3 254.3h2.4V255.3h-2.4ZM326.75 252.7h1.5V261.9h-1.5ZM330.75 245.9h1.5V261.5h-1.5ZM333.75 236.7h1.5V246.5h-1.5ZM340.75 221.2h1.5V223.6h-1.5ZM344.3 204.4h2.4V221.1h-2.4ZM347.75 210.9h1.5V219.0h-1.5ZM349.75 203.4h1.5V205.7h-1.5ZM351.75 193.9h1.5V201.5h-1.5ZM354.3 212.7h2.4V219.9h-2.4ZM356.75 213.2h1.5V234.2h-1.5ZM358.3 234.6h2.4V247.3h-2.4ZM363.3 227.4h2.4V230.6h-2.4ZM365.3 247.0h2.4V272.9h-2.4ZM368.3 272.4h2.4V282.1h-2.4ZM372.3 256.6h2.4V260.9h-2.4ZM375.75 255.9h1.5V269.8h-1.5ZM379.3 236.5h2.4V266.4h-2.4ZM382.75 289.5h1.5V299.4h-1.5ZM389.75 317.0h1.5V347.8h-1.5ZM396.3 297.6h2.4V300.1h-2.4ZM400.75 263.6h1.5V267.9h-1.5ZM403.75 234.7h1.5V248.5h-1.5ZM405.75 231.1h1.5V238.9h-1.5ZM410.75 215.1h1.5V216.9h-1.5ZM412.75 209.1h1.5V215.0h-1.5ZM414.75 203.6h1.5V225.7h-1.5ZM419.75 203.0h1.5V210.5h-1.5ZM424.75 207.9h1.5V218.6h-1.5ZM426.75 213.6h1.5V218.6h-1.5ZM428.75 200.1h1.5V211.8h-1.5ZM431.75 208.1h1.5V239.4h-1.5ZM433.75 242.3h1.5V246.7h-1.5ZM435.75 242.3h1.5V247.8h-1.5ZM438.75 246.5h1.5V279.0h-1.5ZM442.75 250.4h1.5V252.0h-1.5ZM445.75 231.1h1.5V250.1h-1.5ZM447.75 217.4h1.5V230.0h-1.5ZM452.75 205.1h1.5V211.0h-1.5ZM454.75 197.7h1.5V204.6h-1.5ZM456.75 202.3h1.5V210.0h-1.5ZM459.75 178.6h1.5V182.2h-1.5ZM461.3 179.9h2.4V182.3h-2.4ZM464.75 177.0h1.5V179.2h-1.5ZM466.75 172.3h1.5V174.0h-1.5ZM468.3 172.0h2.4V175.8h-2.4ZM471.75 162.6h1.5V168.2h-1.5ZM473.75 164.9h1.5V170.5h-1.5ZM475.75 162.5h1.5V174.4h-1.5ZM478.75 164.1h1.5V180.2h-1.5ZM482.75 183.1h1.5V184.1h-1.5ZM485.75 166.3h1.5V170.8h-1.5ZM487.3 170.7h2.4V184.4h-2.4ZM489.75 166.3h1.5V176.8h-1.5ZM494.75 156.8h1.5V157.8h-1.5ZM499.75 130.5h1.5V140.4h-1.5ZM501.75 128.2h1.5V145.2h-1.5ZM506.75 125.3h1.5V136.6h-1.5ZM508.75 128.9h1.5V130.6h-1.5ZM510.75 131.2h1.5V132.4h-1.5ZM513.75 133.4h1.5V139.4h-1.5ZM515.3 138.8h2.4V151.0h-2.4ZM517.3 144.3h2.4V147.0h-2.4ZM520.3 141.4h2.4V147.5h-2.4ZM522.75 139.0h1.5V142.5h-1.5ZM527.3 139.5h2.4V145.7h-2.4ZM529.75 158.3h1.5V181.3h-1.5ZM531.75 173.6h1.5V175.5h-1.5ZM534.3 174.8h2.4V178.9h-2.4ZM536.75 155.9h1.5V175.7h-1.5ZM541.75 93.3h1.5V101.8h-1.5ZM545.3 81.5h2.4V84.0h-2.4ZM548.75 83.2h1.5V89.7h-1.5ZM550.75 89.1h1.5V90.1h-1.5ZM552.75 87.8h1.5V101.1h-1.5ZM555.3 113.1h2.4V127.0h-2.4ZM557.75 119.4h1.5V125.8h-1.5ZM564.75 101.3h1.5V103.9h-1.5ZM566.75 94.5h1.5V102.7h-1.5ZM569.75 86.9h1.5V88.6h-1.5ZM571.75 77.3h1.5V84.4h-1.5ZM573.75 79.8h1.5V84.8h-1.5ZM585.3 55.1h2.4V59.7h-2.4ZM590.75 57.1h1.5V67.0h-1.5ZM592.75 65.5h1.5V72.9h-1.5ZM597.75 60.0h1.5V67.5h-1.5ZM599.75 62.0h1.5V67.6h-1.5ZM604.3 67.1h2.4V68.1h-2.4ZM606.3 68.7h2.4V126.5h-2.4ZM608.75 113.1h1.5V128.1h-1.5ZM613.75 92.9h1.5V104.1h-1.5ZM615.75 71.2h1.5V89.5h-1.5ZM620.75 82.4h1.5V94.0h-1.5ZM622.3 110.5h2.4V115.0h-2.4ZM625.3 110.8h2.4V123.3h-2.4ZM627.3 116.2h2.4V127.6h-2.4ZM632.75 90.1h1.5V92.5h-1.5ZM634.3 86.6h2.4V114.3h-2.4ZM639.3 120.5h2.4V141.3h-2.4ZM641.75 138.3h1.5V156.1h-1.5ZM643.3 130.7h2.4V136.1h-2.4ZM646.75 100.9h1.5V115.6h-1.5ZM648.75 96.4h1.5V105.0h-1.5ZM650.75 85.5h1.5V86.5h-1.5ZM653.75 68.2h1.5V79.8h-1.5ZM655.75 56.0h1.5V57.6h-1.5ZM660.3 44.4h2.4V51.1h-2.4ZM667.3 65.4h2.4V71.5h-2.4ZM671.3 52.6h2.4V71.1h-2.4ZM679.75 64.2h1.5V77.7h-1.5ZM681.75 56.9h1.5V60.6h-1.5ZM683.75 57.1h1.5V75.8h-1.5ZM686.75 62.5h1.5V69.1h-1.5ZM690.75 67.3h1.5V76.1h-1.5ZM693.75 46.5h1.5V64.5h-1.5ZM695.3 46.4h2.4V47.4h-2.4ZM697.75 41.8h1.5V44.4h-1.5ZM700.75 37.0h1.5V45.7h-1.5ZM702.3 40.1h2.4V45.7h-2.4ZM704.3 46.9h2.4V80.1h-2.4ZM707.75 75.6h1.5V89.9h-1.5ZM709.75 90.1h1.5V99.1h-1.5ZM711.3 94.0h2.4V98.9h-2.4ZM714.75 90.4h1.5V129.9h-1.5ZM716.75 99.4h1.5V131.5h-1.5ZM718.75 94.8h1.5V133.8h-1.5ZM721.75 146.3h1.5V157.4h-1.5ZM725.75 154.8h1.5V170.4h-1.5ZM730.75 181.3h1.5V211.2h-1.5ZM732.75 214.8h1.5V225.2h-1.5ZM735.75 207.8h1.5V216.2h-1.5ZM737.75 217.8h1.5V241.8h-1.5ZM742.75 191.3h1.5V204.3h-1.5ZM744.75 198.1h1.5V211.2h-1.5ZM746.75 191.2h1.5V205.3h-1.5ZM749.75 195.3h1.5V200.6h-1.5ZM751.75 193.8h1.5V205.9h-1.5Z" fill="#000"/>
<polyline points="39.7,499.2 42.0,499.7 44.3,501.3 46.7,503.2 49.0,503.3 51.4,501.4 53.7,499.2 56.0,497.6 58.4,496.6 60.7,496.7 63.0,496.9 65.4,494.3 67.7,489.4 70.0,484.3 72.4,481.0 74.7,477.3 77.1,473.7 79.4,470.0 81.7,465.3 84.1,460.1 86.4,456.6 88.7,452.4 91.1,448.5 93.4,445.5 95.8,442.5 98.1,438.4 100.4,435.0 102.8,430.5 105.1,427.4 107.4,426.5 109.8,421.4 112.1,417.3 114.5,415.8 116.8,414.7 119.1,413.8 121.5,410.8 123.8,407.8 126.1,406.4 128.5,404.5 130.8,400.7 133.1,397.5 135.5,394.0 137.8,389.9 140.2,386.5 142.5,382.4 144.8,380.1 147.2,379.0 149.5,377.4 151.8,374.2 154.2,371.0 156.5,369.3 158.9,369.9 161.2,369.3 163.5,366.0 165.9,362.1 168.2,359.3 170.5,355.7 172.9,352.4 175.2,351.5 177.6,348.7 179.9,345.3 182.2,341.1 184.6,339.3 186.9,338.2 189.2,340.7 191.6,342.0 193.9,343.0 196.2,343.3 198.6,344.7 200.9,346.3 203.3,350.6 205.6,356.6 207.9,361.7 210.3,367.9 212.6,372.4 214.9,380.2 217.3,386.5 219.6,391.1 222.0,394.0 224.3,399.0 226.6,399.7 229.0,398.0 231.3,398.5 233.6,398.6 236.0,396.9 238.3,391.6 240.7,386.0 243.0,382.1 245.3,378.3 247.7,372.9 250.0,368.8 252.3,365.4 254.7,358.4 257.0,348.9 259.3,341.2 261.7,335.4 264.0,331.3 266.4,326.9 268.7,322.9 271.0,321.2 273.4,318.5 275.7,315.7 278.0,315.0 280.4,317.4 282.7,318.0 285.1,318.7 287.4,319.3 289.7,318.2 292.1,316.7 294.4,314.1 296.7,312.2 299.1,309.9 301.4,304.9 303.7,298.3 306.1,293.3 308.4,287.0 310.8,280.6 313.1,276.7 315.4,273.0 317.8,269.7 320.1,266.1 322.4,262.7 324.8,260.7 327.1,259.8 329.5,258.4 331.8,257.2 334.1,255.6 336.5,252.5 338.8,248.9 341.1,244.7 343.5,239.3 345.8,235.7 348.2,231.4 350.5,225.8 352.8,219.4 355.2,216.8 357.5,216.6 359.8,218.6 362.2,218.9 364.5,219.6 366.8,226.4 369.2,232.5 371.5,237.7 373.9,243.2 376.2,250.8 378.5,252.9 380.9,256.2 383.2,261.4 385.5,273.8 387.9,284.2 390.2,291.7 392.6,294.3 394.9,298.1 397.2,302.0 399.6,302.1 401.9,304.3 404.2,301.1 406.6,294.3 408.9,280.4 411.3,268.6 413.6,254.8 415.9,246.5 418.3,237.0 420.6,228.0 422.9,221.7 425.3,217.2 427.6,215.6 429.9,212.5 432.3,215.1 434.6,217.6 437.0,221.5 439.3,226.8 441.6,232.2 444.0,236.2 446.3,238.6 448.6,238.4 451.0,237.3 453.3,237.8 455.7,234.4 458.0,231.1 460.3,224.2 462.7,214.5 465.0,206.4 467.3,198.6 469.7,193.0 472.0,188.1 474.4,184.4 476.7,180.2 479.0,177.7 481.4,174.7 483.7,175.2 486.0,173.6 488.4,174.3 490.7,173.7 493.0,171.4 495.4,170.3 497.7,167.8 500.1,164.6 502.4,161.1 504.7,156.7 507.1,152.0 509.4,148.3 511.7,143.1 514.1,139.8 516.4,139.6 518.8,138.6 521.1,138.9 523.4,140.1 525.8,139.5 528.1,140.4 530.4,144.9 532.8,149.4 535.1,154.0 537.4,156.3 539.8,151.9 542.1,146.6 544.5,140.4 546.8,134.6 549.1,129.6 551.5,123.9 553.8,115.9 556.1,111.3 558.5,105.3 560.8,100.9 563.2,101.3 565.5,102.1 567.8,102.9 570.2,103.4 572.5,102.2 574.8,101.7 577.2,99.0 579.5,93.2 581.9,88.0 584.2,82.5 586.5,77.3 588.9,72.6 591.2,69.9 593.5,68.3 595.9,66.2 598.2,64.5 600.5,63.9 602.9,63.0 605.2,63.0 607.6,70.0 609.9,76.9 612.2,82.1 614.6,84.7 616.9,84.6 619.2,86.1 621.6,88.7 623.9,93.5 626.3,99.8 628.6,105.8 630.9,103.5 633.3,99.9 635.6,100.6 637.9,102.5 640.3,109.5 642.6,116.1 645.0,120.3 647.3,118.9 649.6,117.1 652.0,112.9 654.3,109.3 656.6,105.7 659.0,98.8 661.3,92.8 663.6,86.7 666.0,79.1 668.3,72.6 670.7,68.6 673.0,65.2 675.3,65.3 677.7,65.7 680.0,66.5 682.3,67.6 684.7,70.1 687.0,68.3 689.4,68.3 691.7,67.9 694.0,66.4 696.4,64.0 698.7,59.6 701.0,56.1 703.4,54.2 705.7,56.5 708.1,57.9 710.4,61.6 712.7,65.3 715.1,71.6 717.4,76.8 719.7,85.6 722.1,97.1 724.4,107.0 726.7,119.5 729.1,127.5 731.4,139.6 733.8,152.2 736.1,164.0 738.4,175.2 740.8,185.5 743.1,191.3 745.4,196.7 747.8,202.2 750.1,204.7 752.5,208.0" fill="none" stroke="#ec666c" stroke-width="1.15" stroke-linejoin="round"/>
</g>
<path d="M0 465.3H1005.3000000000001M1004.7 0V465.3" stroke="#000" stroke-width="1.3" fill="none"/>
<path d="M38.5 465.3v2.7M87.5 465.3v2.7M133.5 465.3v2.7M180.5 465.3v2.7M232.5 465.3v2.7M283.5 465.3v2.7M327.5 465.3v2.7M379.5 465.3v2.7M430.5 465.3v2.7M477.5 465.3v2.7M531.5 465.3v2.7M578.5 465.3v2.7M626.5 465.3v2.7M674.5 465.3v2.7M718.5 465.3v2.7M766.5 465.3v2.7M818.5 465.3v2.7M869.5 465.3v2.7M919.5 465.3v2.7M972.5 465.3v2.7M1004.7 446.3h3M1004.7 413.4h3M1004.7 380.5h3M1004.7 347.6h3M1004.7 314.7h3M1004.7 281.8h3M1004.7 248.9h3M1004.7 216.0h3M1004.7 183.1h3M1004.7 150.2h3M1004.7 117.3h3M1004.7 84.4h3M1004.7 51.5h3M1004.7 18.6h3" stroke="#000" stroke-width="1.1"/>
<path d="M38.4 477V488M626.5 477V488" stroke="#222" stroke-width="1"/>
<path d="M1004.7 345.4L1009.9000000000001 347.6L1004.7 349.8Z" fill="#000"/>
<text x="1011.8" y="351.5" font-family="Liberation Sans, Arial, sans-serif" font-size="10.2" fill="#0a0a10" textLength="19.4" lengthAdjust="spacingAndGlyphs">5200</text>
<path d="M1004.7 279.6L1009.9000000000001 281.8L1004.7 284.0Z" fill="#000"/>
<text x="1011.8" y="285.7" font-family="Liberation Sans, Arial, sans-serif" font-size="10.2" fill="#0a0a10" textLength="19.4" lengthAdjust="spacingAndGlyphs">5400</text>
<path d="M1004.7 213.8L1009.9000000000001 216.0L1004.7 218.2Z" fill="#000"/>
<text x="1011.8" y="219.9" font-family="Liberation Sans, Arial, sans-serif" font-size="10.2" fill="#0a0a10" textLength="19.4" lengthAdjust="spacingAndGlyphs">5600</text>
<path d="M1004.7 148.0L1009.9000000000001 150.2L1004.7 152.4Z" fill="#000"/>
<text x="1011.8" y="154.1" font-family="Liberation Sans, Arial, sans-serif" font-size="10.2" fill="#0a0a10" textLength="19.4" lengthAdjust="spacingAndGlyphs">5800</text>
<path d="M1004.7 82.2L1009.9000000000001 84.4L1004.7 86.6Z" fill="#000"/>
<text x="1011.8" y="88.3" font-family="Liberation Sans, Arial, sans-serif" font-size="10.2" fill="#0a0a10" textLength="19.4" lengthAdjust="spacingAndGlyphs">6000</text>
<path d="M1004.7 16.4L1009.9000000000001 18.6L1004.7 20.8Z" fill="#000"/>
<text x="1011.8" y="22.5" font-family="Liberation Sans, Arial, sans-serif" font-size="10.2" fill="#0a0a10" textLength="19.4" lengthAdjust="spacingAndGlyphs">6200</text>
<text x="6.9" y="475.8" font-family="Liberation Sans, Arial, sans-serif" font-size="10.2" fill="#0a0a10" textLength="15.3" lengthAdjust="spacingAndGlyphs">Dec</text>
<text x="55.7" y="475.8" font-family="Liberation Sans, Arial, sans-serif" font-size="10.2" fill="#0a0a10" textLength="14.6" lengthAdjust="spacingAndGlyphs">Jan</text>
<text x="103.2" y="475.8" font-family="Liberation Sans, Arial, sans-serif" font-size="10.2" fill="#0a0a10" textLength="14.5" lengthAdjust="spacingAndGlyphs">Feb</text>
<text x="149.8" y="475.8" font-family="Liberation Sans, Arial, sans-serif" font-size="10.2" fill="#0a0a10" textLength="14.3" lengthAdjust="spacingAndGlyphs">Mar</text>
<text x="199.8" y="475.8" font-family="Liberation Sans, Arial, sans-serif" font-size="10.2" fill="#0a0a10" textLength="13.4" lengthAdjust="spacingAndGlyphs">Apr</text>
<text x="250.1" y="475.8" font-family="Liberation Sans, Arial, sans-serif" font-size="10.2" fill="#0a0a10" textLength="15.8" lengthAdjust="spacingAndGlyphs">May</text>
<text x="297.9" y="475.8" font-family="Liberation Sans, Arial, sans-serif" font-size="10.2" fill="#0a0a10" textLength="15.3" lengthAdjust="spacingAndGlyphs">Jun</text>
<text x="347.4" y="475.8" font-family="Liberation Sans, Arial, sans-serif" font-size="10.2" fill="#0a0a10" textLength="12.3" lengthAdjust="spacingAndGlyphs">Jul</text>
<text x="397.6" y="475.8" font-family="Liberation Sans, Arial, sans-serif" font-size="10.2" fill="#0a0a10" textLength="14.7" lengthAdjust="spacingAndGlyphs">Aug</text>
<text x="446.5" y="475.8" font-family="Liberation Sans, Arial, sans-serif" font-size="10.2" fill="#0a0a10" textLength="15.0" lengthAdjust="spacingAndGlyphs">Sep</text>
<text x="497.4" y="475.8" font-family="Liberation Sans, Arial, sans-serif" font-size="10.2" fill="#0a0a10" textLength="14.2" lengthAdjust="spacingAndGlyphs">Oct</text>
<text x="547.4" y="475.8" font-family="Liberation Sans, Arial, sans-serif" font-size="10.2" fill="#0a0a10" textLength="15.2" lengthAdjust="spacingAndGlyphs">Nov</text>
<text x="594.9" y="475.8" font-family="Liberation Sans, Arial, sans-serif" font-size="10.2" fill="#0a0a10" textLength="15.3" lengthAdjust="spacingAndGlyphs">Dec</text>
<text x="643.2" y="475.8" font-family="Liberation Sans, Arial, sans-serif" font-size="10.2" fill="#0a0a10" textLength="14.6" lengthAdjust="spacingAndGlyphs">Jan</text>
<text x="689.2" y="475.8" font-family="Liberation Sans, Arial, sans-serif" font-size="10.2" fill="#0a0a10" textLength="14.5" lengthAdjust="spacingAndGlyphs">Feb</text>
<text x="735.4" y="475.8" font-family="Liberation Sans, Arial, sans-serif" font-size="10.2" fill="#0a0a10" textLength="14.3" lengthAdjust="spacingAndGlyphs">Mar</text>
<text x="785.8" y="475.8" font-family="Liberation Sans, Arial, sans-serif" font-size="10.2" fill="#0a0a10" textLength="13.4" lengthAdjust="spacingAndGlyphs">Apr</text>
<text x="836.1" y="475.8" font-family="Liberation Sans, Arial, sans-serif" font-size="10.2" fill="#0a0a10" textLength="15.8" lengthAdjust="spacingAndGlyphs">May</text>
<text x="886.9" y="475.8" font-family="Liberation Sans, Arial, sans-serif" font-size="10.2" fill="#0a0a10" textLength="15.3" lengthAdjust="spacingAndGlyphs">Jun</text>
<text x="939.9" y="475.8" font-family="Liberation Sans, Arial, sans-serif" font-size="10.2" fill="#0a0a10" textLength="12.3" lengthAdjust="spacingAndGlyphs">Jul</text>
<text x="988.6" y="475.8" font-family="Liberation Sans, Arial, sans-serif" font-size="10.2" fill="#0a0a10" textLength="14.7" lengthAdjust="spacingAndGlyphs">Aug</text>
<text x="9.5" y="487.7" font-family="Liberation Sans, Arial, sans-serif" font-size="10.2" fill="#0a0a10" textLength="19.4" lengthAdjust="spacingAndGlyphs">2023</text>
<text x="322.8" y="487.7" font-family="Liberation Sans, Arial, sans-serif" font-size="10.2" fill="#0a0a10" textLength="19.4" lengthAdjust="spacingAndGlyphs">2024</text>
<text x="805.6" y="487.7" font-family="Liberation Sans, Arial, sans-serif" font-size="10.2" fill="#0a0a10" textLength="19.4" lengthAdjust="spacingAndGlyphs">2025</text>
<path d="M1005.4000000000001 106.3L1009.2 99.8H1045.4V112.8H1009.2Z" fill="url(#gl)" stroke="#3a2a10" stroke-width="0.8" stroke-linejoin="round"/>
<text x="1010.8" y="110.1" font-family="Liberation Sans, Arial, sans-serif" font-size="10.3" fill="#fff" stroke="#fff" stroke-width="0.2" textLength="32.6" lengthAdjust="spacingAndGlyphs">5933.58</text>
<path d="M1005.4000000000001 36.0L1009.2 29.5H1045.4V42.5H1009.2Z" fill="url(#rl)" stroke="#6a1518" stroke-width="0.8" stroke-linejoin="round"/>
<text x="1010.8" y="39.8" font-family="Liberation Sans, Arial, sans-serif" font-size="10.3" fill="#fff" stroke="#fff" stroke-width="0.2" textLength="32.6" lengthAdjust="spacingAndGlyphs">6147.00</text>
<path d="M1005.4000000000001 51.5L1009.2 45.0H1045.4V58.0H1009.2Z" fill="url(#rl)" stroke="#6a1518" stroke-width="0.8" stroke-linejoin="round"/>
<text x="1010.8" y="55.3" font-family="Liberation Sans, Arial, sans-serif" font-size="10.3" fill="#fff" stroke="#fff" stroke-width="0.2" textLength="32.6" lengthAdjust="spacingAndGlyphs">6100.00</text>
<path d="M1005.4000000000001 84.4L1009.2 77.9H1045.4V90.9H1009.2Z" fill="url(#rl)" stroke="#6a1518" stroke-width="0.8" stroke-linejoin="round"/>
<text x="1010.8" y="88.2" font-family="Liberation Sans, Arial, sans-serif" font-size="10.3" fill="#fff" stroke="#fff" stroke-width="0.2" textLength="32.6" lengthAdjust="spacingAndGlyphs">6000.00</text>
<path d="M1005.4000000000001 111.7L1009.2 105.2H1045.4V118.2H1009.2Z" fill="url(#bl)" stroke="#12304f" stroke-width="0.8" stroke-linejoin="round"/>
<text x="1010.8" y="115.5" font-family="Liberation Sans, Arial, sans-serif" font-size="10.3" fill="#fff" stroke="#fff" stroke-width="0.2" textLength="32.6" lengthAdjust="spacingAndGlyphs">5917.02</text>
<path d="M1005.4000000000001 166.7L1009.2 160.2H1045.4V173.2H1009.2Z" fill="url(#rl)" stroke="#6a1518" stroke-width="0.8" stroke-linejoin="round"/>
<text x="1010.8" y="170.5" font-family="Liberation Sans, Arial, sans-serif" font-size="10.3" fill="#fff" stroke="#fff" stroke-width="0.2" textLength="32.6" lengthAdjust="spacingAndGlyphs">5750.00</text>
<path d="M1005.4000000000001 183.1L1009.2 176.6H1045.4V189.6H1009.2Z" fill="url(#rl)" stroke="#6a1518" stroke-width="0.8" stroke-linejoin="round"/>
<text x="1010.8" y="186.9" font-family="Liberation Sans, Arial, sans-serif" font-size="10.3" fill="#fff" stroke="#fff" stroke-width="0.2" textLength="32.6" lengthAdjust="spacingAndGlyphs">5700.00</text>
<path d="M1005.4000000000001 239.5L1009.2 233.0H1045.4V246.0H1009.2Z" fill="url(#cl)" stroke="#1f5a90" stroke-width="0.8" stroke-linejoin="round"/>
<text x="1010.8" y="243.3" font-family="Liberation Sans, Arial, sans-serif" font-size="10.3" fill="#1d3b66" stroke="#1d3b66" stroke-width="0.2" textLength="32.6" lengthAdjust="spacingAndGlyphs">5528.43</text>
<path d="M1005.4000000000001 248.9L1009.2 242.4H1045.4V255.4H1009.2Z" fill="url(#rl)" stroke="#6a1518" stroke-width="0.8" stroke-linejoin="round"/>
<text x="1010.8" y="252.7" font-family="Liberation Sans, Arial, sans-serif" font-size="10.3" fill="#fff" stroke="#fff" stroke-width="0.2" textLength="32.6" lengthAdjust="spacingAndGlyphs">5500.00</text>
<path d="M1005.4000000000001 208.0L1009.2 201.5H1045.4V214.5H1009.2Z" fill="url(#rl)" stroke="#6a1518" stroke-width="0.8" stroke-linejoin="round"/>
<text x="1010.8" y="211.8" font-family="Liberation Sans, Arial, sans-serif" font-size="10.3" fill="#fff" stroke="#fff" stroke-width="0.2" textLength="32.6" lengthAdjust="spacingAndGlyphs">5624.19</text>
<path d="M1005.4000000000001 193.8L1009.2 187.3H1045.4V200.3H1009.2Z" fill="url(#kl)" stroke="#000" stroke-width="0.8" stroke-linejoin="round"/>
<text x="1010.8" y="197.6" font-family="Liberation Sans, Arial, sans-serif" font-size="10.3" fill="#fff" stroke="#fff" stroke-width="0.2" textLength="32.6" lengthAdjust="spacingAndGlyphs">5667.56</text>
<path d="M1005.4000000000001 413.4L1009.2 406.9H1045.4V419.9H1009.2Z" fill="url(#rl)" stroke="#6a1518" stroke-width="0.8" stroke-linejoin="round"/>
<text x="1010.8" y="417.2" font-family="Liberation Sans, Arial, sans-serif" font-size="10.3" fill="#fff" stroke="#fff" stroke-width="0.2" textLength="32.6" lengthAdjust="spacingAndGlyphs">5000.00</text>
<text x="766.8" y="30.1" font-family="DejaVu Sans, Verdana, sans-serif" font-weight="bold" font-size="13.8" fill="#db3230" stroke="#db3230" stroke-width="0.35" textLength="142.6" lengthAdjust="spacingAndGlyphs">6147 RESISTANCE</text>
<text x="766.8" y="63.8" font-family="DejaVu Sans, Verdana, sans-serif" font-weight="bold" font-size="13.8" fill="#db3230" stroke="#db3230" stroke-width="0.35" textLength="225.8" lengthAdjust="spacingAndGlyphs">6100 SUPPORT/RESISTANCE</text>
<text x="769.9" y="98.9" font-family="DejaVu Sans, Verdana, sans-serif" font-weight="bold" font-size="13.8" fill="#db3230" stroke="#db3230" stroke-width="0.35" textLength="225.8" lengthAdjust="spacingAndGlyphs">6000 SUPPORT/RESISTANCE</text>
<text x="764.6" y="162.1" font-family="DejaVu Sans, Verdana, sans-serif" font-weight="bold" font-size="13.8" fill="#db3230" stroke="#db3230" stroke-width="0.35" textLength="142.7" lengthAdjust="spacingAndGlyphs">5750 RESISTANCE</text>
<text x="764.6" y="199.4" font-family="DejaVu Sans, Verdana, sans-serif" font-weight="bold" font-size="13.8" fill="#db3230" stroke="#db3230" stroke-width="0.35" textLength="226.2" lengthAdjust="spacingAndGlyphs">5700 SUPPORT/RESISTANCE</text>
<text x="766.9" y="266.3" font-family="DejaVu Sans, Verdana, sans-serif" font-weight="bold" font-size="13.8" fill="#db3230" stroke="#db3230" stroke-width="0.35" textLength="119.1" lengthAdjust="spacingAndGlyphs">5500 SUPPORT</text>
<text x="769.9" y="427.1" font-family="DejaVu Sans, Verdana, sans-serif" font-weight="bold" font-size="13.8" fill="#db3230" stroke="#db3230" stroke-width="0.35" textLength="118.6" lengthAdjust="spacingAndGlyphs">5000 SUPPORT</text>
<rect x="44.6" y="179.2" width="196" height="78.6" rx="3" ry="3" fill="#c0c9e2" fill-opacity="0.55" stroke="#23262e" stroke-width="1.5"/>
<path d="M53 192.5V245.5M53 201.5h4M53 213h4M53 224.5h4M53 236h4M53 247.5h4" stroke="#3c4048" stroke-width="0.7" fill="none"/>
<rect x="50.8" y="187.4" width="4.4" height="4.4" fill="#dfe5f3" stroke="#444" stroke-width="0.7"/><path d="M51.8 189.6h2.4" stroke="#222" stroke-width="0.7"/>
<rect x="57" y="185.6" width="9.8" height="8.3" fill="#000"/>
<text x="69.1" y="193.7" font-family="Liberation Sans, Arial, sans-serif" font-size="9.9" fill="#14141c" xml:space="preserve" textLength="99.4" lengthAdjust="spacingAndGlyphs">SPX Index - Last Price</text>
<text x="202.7" y="193.7" font-family="Liberation Sans, Arial, sans-serif" font-size="9.9" fill="#14141c" textLength="32.5" lengthAdjust="spacingAndGlyphs">5667.56</text>
<rect x="57" y="197.0" width="9.8" height="8.3" fill="#e8404c"/>
<text x="69.1" y="205.1" font-family="Liberation Sans, Arial, sans-serif" font-size="9.9" fill="#14141c" xml:space="preserve" textLength="123.1" lengthAdjust="spacingAndGlyphs">SMAVG (10)  on Close (SPX)</text>
<text x="202.7" y="205.1" font-family="Liberation Sans, Arial, sans-serif" font-size="9.9" fill="#14141c" textLength="32.5" lengthAdjust="spacingAndGlyphs">5624.19</text>
<rect x="57" y="208.5" width="9.8" height="8.3" fill="#4070a8"/>
<text x="69.1" y="216.6" font-family="Liberation Sans, Arial, sans-serif" font-size="9.9" fill="#14141c" xml:space="preserve" textLength="123.1" lengthAdjust="spacingAndGlyphs">SMAVG (50)  on Close (SPX)</text>
<text x="202.7" y="216.6" font-family="Liberation Sans, Arial, sans-serif" font-size="9.9" fill="#14141c" textLength="32.5" lengthAdjust="spacingAndGlyphs">5917.02</text>
<rect x="57" y="219.9" width="9.8" height="8.3" fill="#5f8a2e"/>
<text x="69.1" y="228.0" font-family="Liberation Sans, Arial, sans-serif" font-size="9.9" fill="#14141c" xml:space="preserve" textLength="127.9" lengthAdjust="spacingAndGlyphs">SMAVG (100)  on Close (SPX)</text>
<text x="202.7" y="228.0" font-family="Liberation Sans, Arial, sans-serif" font-size="9.9" fill="#14141c" textLength="32.5" lengthAdjust="spacingAndGlyphs">5933.58</text>
<rect x="57" y="231.4" width="9.8" height="8.3" fill="#2b4a6a"/>
<text x="69.1" y="239.5" font-family="Liberation Sans, Arial, sans-serif" font-size="9.9" fill="#14141c" xml:space="preserve" textLength="127.9" lengthAdjust="spacingAndGlyphs">SMAVG (200)  on Close (SPX)</text>
<text x="202.7" y="239.5" font-family="Liberation Sans, Arial, sans-serif" font-size="9.9" fill="#14141c" textLength="32.5" lengthAdjust="spacingAndGlyphs">5749.92</text>
<rect x="57" y="242.8" width="9.8" height="8.3" fill="#5cb8f0"/>
<text x="69.1" y="250.9" font-family="Liberation Sans, Arial, sans-serif" font-size="9.9" fill="#14141c" xml:space="preserve" textLength="77.3" lengthAdjust="spacingAndGlyphs">PTPS(0.02) (SPX)</text>
<text x="202.7" y="250.9" font-family="Liberation Sans, Arial, sans-serif" font-size="9.9" fill="#14141c" textLength="32.5" lengthAdjust="spacingAndGlyphs">5528.43</text>
</svg></body></html>
